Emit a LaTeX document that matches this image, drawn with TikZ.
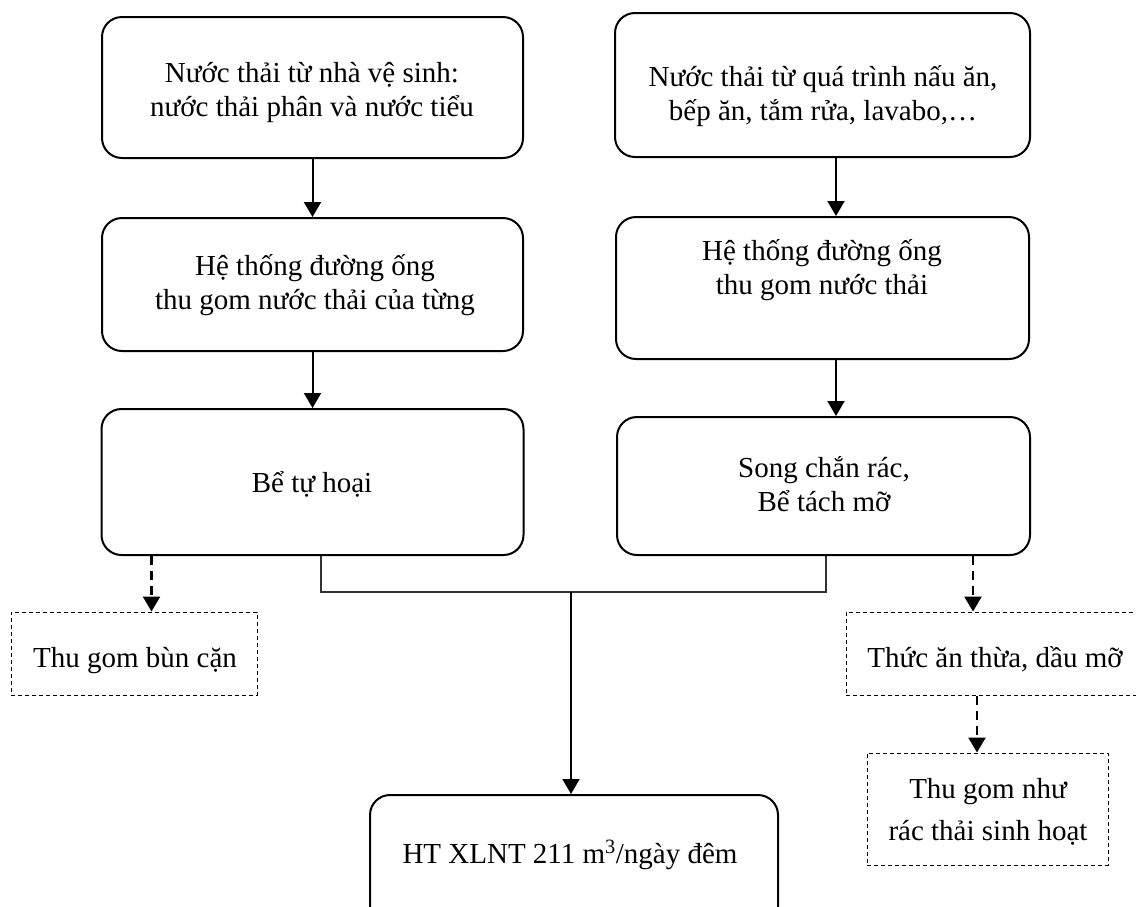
\documentclass[tikz,border=0pt]{standalone}
\usepackage{fontspec}
\setmainfont{Liberation Serif}
\usetikzlibrary{arrows.meta}
\begin{document}
\begin{tikzpicture}[x=1pt,y=-1pt,
  box/.style={draw,line width=2pt,rounded corners=20pt,inner sep=0pt},
  dbox/.style={draw,line width=1pt,dash pattern=on 4pt off 3pt,inner sep=0pt},
  txt/.style={inner sep=0pt,align=center,font=\fontsize{29}{34}\selectfont},
  arr/.style={line width=2pt,-{Triangle[width=17pt,length=15pt]}},
  darr/.style={line width=2.5pt,dash pattern=on 9pt off 6pt,-{Triangle[width=17pt,length=15pt]}},
  joint/.style={line width=1.3pt,draw=black!80}]
\useasboundingbox (0,0) rectangle (1136,906);

% process boxes
\node[box,minimum width=421pt,minimum height=141pt] (a) at (312.5,87.5) {};
\node[box,minimum width=415pt,minimum height=144pt] (b) at (822.5,85) {};
\node[box,minimum width=421pt,minimum height=133pt] (c) at (312.5,284.5) {};
\node[box,minimum width=413pt,minimum height=142pt] (d) at (822.5,288) {};
\node[box,minimum width=422pt,minimum height=146pt] (e) at (312.5,482) {};
\node[box,minimum width=413pt,minimum height=138pt] (f) at (823.5,486) {};
\node[box,minimum width=408pt,minimum height=132pt] (h) at (574,861) {};

% side outputs
\node[dbox,minimum width=246pt,minimum height=83pt] (tl) at (134,653.5) {};
\node[dbox,minimum width=298pt,minimum height=83pt] (tr) at (995,653.5) {};
\node[dbox,minimum width=241pt,minimum height=112pt] (g) at (987.5,809) {};

% labels
\node[txt] (at) at (312,92) {Nước thải từ nhà vệ sinh:\\nước thải phân và nước tiểu};
\node[txt] (bt) at (823,96) {Nước thải từ quá trình nấu ăn,\\bếp ăn, tắm rửa, lavabo,…};
\node[txt] (ct) at (315,285) {Hệ thống đường ống\\thu gom nước thải của từng};
\node[txt] (dt) at (822,270) {Hệ thống đường ống\\thu gom nước thải};
\node[txt,anchor=base] (et) at (312,492) {Bể tự hoại};
\node[txt] (ft) at (824,484) {Song chắn rác,\\Bể tách mỡ};
\node[txt,anchor=base] (ht) at (570,863) {HT XLNT 211 m\textsuperscript{3}/ngày đêm};
\node[txt,anchor=base] (tlt) at (135,667) {Thu gom bùn cặn};
\node[txt,anchor=base] (trt) at (995,667) {Thức ăn thừa, dầu mỡ};
\node[txt,font=\fontsize{29}{42}\selectfont] (gt) at (988,812) {Thu gom như\\rác thải sinh hoạt};

% main flow
\draw[arr] (a) -- (c);
\draw[arr] (c) -- (e);
\draw[arr] ([xshift=13.5pt]b.south) -- ([xshift=13.5pt]d.north);
\draw[arr] ([xshift=13.5pt]d.south) -- ([xshift=12.5pt]f.north);

% collector joining both streams
\coordinate (jl) at (321,592);
\coordinate (jr) at (826,592);
\coordinate (jm) at (571,592);
\draw[joint] (e.south -| jl) -- (jl) -- (jr) -- (f.south -| jr);
\draw[arr] (jm) -- (jm |- h.north);

% dashed side flows
\draw[darr] ([xshift=-161pt]e.south) -- ([xshift=-161pt]e.south |- tl.north);
\draw[darr] ([xshift=149.5pt]f.south) -- ([xshift=149.5pt]f.south |- tr.north);
\draw[darr] ([xshift=-18pt]tr.south) -- ([xshift=-18pt]tr.south |- g.north);
\end{tikzpicture}
\end{document}
